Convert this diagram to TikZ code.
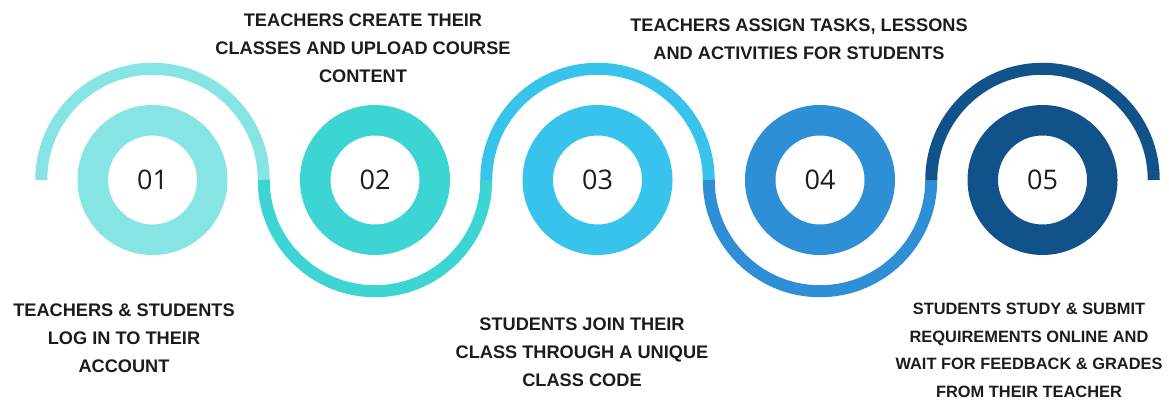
\documentclass[tikz,border=0pt]{standalone}
\usepackage{fontspec}
\setmainfont{Liberation Sans}
\newfontfamily\numfont{Open Sans}
\definecolor{c1}{HTML}{87E4E4}
\definecolor{c2}{HTML}{3DD5D3}
\definecolor{c3}{HTML}{38C3EC}
\definecolor{c4}{HTML}{2F8FD6}
\definecolor{c5}{HTML}{12528A}
\definecolor{ink}{HTML}{1C1C1C}
\begin{document}
\begin{tikzpicture}[x=1pt,y=1pt,
  donut/.style={circle,draw=#1,fill=white,line width=30.5pt,minimum size=119.5pt,inner sep=0pt,
     font=\numfont\fontsize{27}{27}\selectfont,text=ink},
  wave/.style={draw=#1,line width=12pt,line cap=butt},
  label/.style={align=center,text=ink,font=\fontsize{18.2}{28}\selectfont\bfseries},
  smalllabel/.style={align=center,text=ink,font=\fontsize{16.4}{27.5}\selectfont\bfseries}]
\useasboundingbox (0,0) rectangle (1169,399);
\def\R{111.25}
\node[donut=c1] (n1) at (152.5,219) {01};
\node[donut=c2] (n2) at (375,219) {02};
\node[donut=c3] (n3) at (597.5,219) {03};
\node[donut=c4] (n4) at (820,219) {04};
\node[donut=c5] (n5) at (1042.5,219) {05};
\draw[wave=c1] (n1.center) ++(-\R,0) arc[start angle=180,end angle=0,radius=\R];
\draw[wave=c2] (n2.center) ++(-\R,0) arc[start angle=180,end angle=360,radius=\R];
\draw[wave=c3] (n3.center) ++(-\R,0) arc[start angle=180,end angle=0,radius=\R];
\draw[wave=c4] (n4.center) ++(-\R,0) arc[start angle=180,end angle=360,radius=\R];
\draw[wave=c5] (n5.center) ++(-\R,0) arc[start angle=180,end angle=0,radius=\R];
\node[label] (t1) at (124,61) {TEACHERS \& STUDENTS\\LOG IN TO THEIR\\ACCOUNT};
\node[label] (t2) at (363,351) {TEACHERS CREATE THEIR\\CLASSES AND UPLOAD COURSE\\CONTENT};
\node[label] (t3) at (582,47) {STUDENTS JOIN THEIR\\CLASS THROUGH A UNIQUE\\CLASS CODE};
\node[label] (t4) at (799,360) {TEACHERS ASSIGN TASKS, LESSONS\\AND ACTIVITIES FOR STUDENTS};
\node[smalllabel] (t5) at (1029,48.5) {STUDENTS STUDY \& SUBMIT\\REQUIREMENTS ONLINE AND\\WAIT FOR FEEDBACK \& GRADES\\FROM THEIR TEACHER};
\end{tikzpicture}
\end{document}
